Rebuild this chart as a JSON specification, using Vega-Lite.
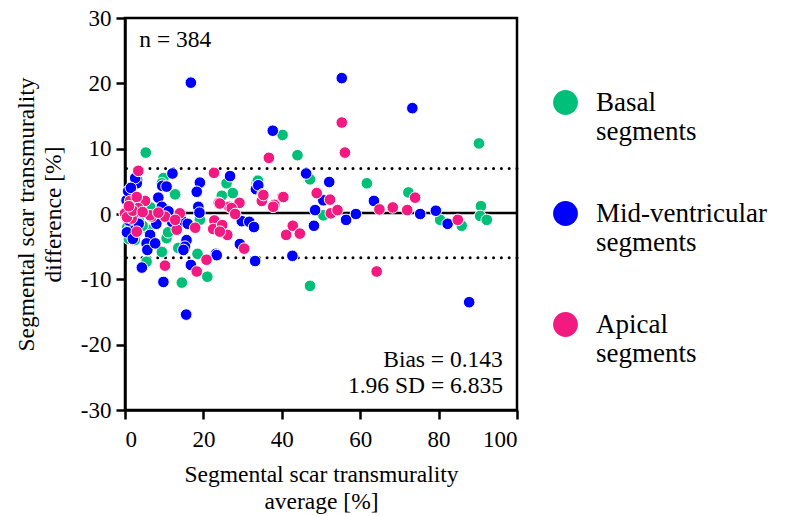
{
  "$schema": "https://vega.github.io/schema/vega-lite/v6.json",
  "width": 392,
  "height": 392,
  "autosize": {"type": "none"},
  "padding": {"left": 125, "top": 18, "right": 274, "bottom": 106},
  "datasets": {
    "pts": [
      {"avg": 5.3, "diff": 9.4, "seg": "Basal"}, {"avg": 40.2, "diff": 12.1, "seg": "Basal"}, {"avg": 44.0, "diff": 9.0, "seg": "Basal"}, {"avg": 47.2, "diff": 5.3, "seg": "Basal"}, {"avg": 9.8, "diff": 5.5, "seg": "Basal"}, {"avg": 12.8, "diff": 3.0, "seg": "Basal"}, {"avg": 25.9, "diff": 4.7, "seg": "Basal"}, {"avg": 27.5, "diff": 3.2, "seg": "Basal"}, {"avg": 24.7, "diff": 2.8, "seg": "Basal"}, {"avg": 33.6, "diff": 4.8, "seg": "Basal"}, {"avg": 33.9, "diff": 5.1, "seg": "Basal"}, {"avg": 5.5, "diff": -7.3, "seg": "Basal"}, {"avg": 10.6, "diff": -3.7, "seg": "Basal"}, {"avg": 9.4, "diff": -5.8, "seg": "Basal"}, {"avg": 14.5, "diff": -10.5, "seg": "Basal"}, {"avg": 19.1, "diff": -0.9, "seg": "Basal"}, {"avg": 14.5, "diff": -5.0, "seg": "Basal"}, {"avg": 18.5, "diff": -6.1, "seg": "Basal"}, {"avg": 21.0, "diff": -9.6, "seg": "Basal"}, {"avg": 47.2, "diff": -11.0, "seg": "Basal"}, {"avg": 90.3, "diff": 10.8, "seg": "Basal"}, {"avg": 61.7, "diff": 4.7, "seg": "Basal"}, {"avg": 72.3, "diff": 3.3, "seg": "Basal"}, {"avg": 90.8, "diff": 1.2, "seg": "Basal"}, {"avg": 50.6, "diff": -0.2, "seg": "Basal"}, {"avg": 80.4, "diff": -0.9, "seg": "Basal"}, {"avg": 85.9, "diff": -1.8, "seg": "Basal"}, {"avg": 90.6, "diff": -0.3, "seg": "Basal"}, {"avg": 92.3, "diff": -0.9, "seg": "Basal"}, {"avg": 9.4, "diff": 4.7, "seg": "Basal"}, {"avg": 5.9, "diff": -2.4, "seg": "Basal"}, {"avg": 11.0, "diff": -2.8, "seg": "Basal"}, {"avg": 13.6, "diff": -5.2, "seg": "Basal"}, {"avg": 1.2, "diff": -3.2, "seg": "Basal"}, {"avg": 2.5, "diff": -4.0, "seg": "Basal"}, {"avg": 0.6, "diff": -2.0, "seg": "Basal"}, {"avg": 4.5, "diff": -1.8, "seg": "Basal"}, {"avg": 6.5, "diff": 1.0, "seg": "Basal"}, {"avg": 7.8, "diff": -0.8, "seg": "Basal"}, {"avg": 11.5, "diff": -1.0, "seg": "Basal"}, {"avg": 13.0, "diff": -0.3, "seg": "Basal"}, {"avg": 2.0, "diff": 2.5, "seg": "Basal"}, {"avg": 1.0, "diff": -3.8, "seg": "Basal"}, {"avg": 0.0, "diff": 0.0, "seg": "Basal"}, {"avg": 3.5, "diff": -1.0, "seg": "Basal"},
      {"avg": 16.8, "diff": 20.1, "seg": "Mid-ventricular"}, {"avg": 37.7, "diff": 12.75, "seg": "Mid-ventricular"}, {"avg": 12.1, "diff": 6.2, "seg": "Mid-ventricular"}, {"avg": 26.8, "diff": 5.8, "seg": "Mid-ventricular"}, {"avg": 46.2, "diff": 6.2, "seg": "Mid-ventricular"}, {"avg": 3.1, "diff": 5.2, "seg": "Mid-ventricular"}, {"avg": 2.3, "diff": 4.4, "seg": "Mid-ventricular"}, {"avg": 9.5, "diff": 4.3, "seg": "Mid-ventricular"}, {"avg": 19.1, "diff": 4.8, "seg": "Mid-ventricular"}, {"avg": 18.3, "diff": 3.4, "seg": "Mid-ventricular"}, {"avg": 8.5, "diff": 2.5, "seg": "Mid-ventricular"}, {"avg": 33.4, "diff": 3.8, "seg": "Mid-ventricular"}, {"avg": 34.0, "diff": 4.4, "seg": "Mid-ventricular"}, {"avg": 18.7, "diff": 1.1, "seg": "Mid-ventricular"}, {"avg": 9.8, "diff": 0.9, "seg": "Mid-ventricular"}, {"avg": 6.4, "diff": -3.2, "seg": "Mid-ventricular"}, {"avg": 5.5, "diff": -4.5, "seg": "Mid-ventricular"}, {"avg": 5.7, "diff": -5.5, "seg": "Mid-ventricular"}, {"avg": 7.7, "diff": -4.5, "seg": "Mid-ventricular"}, {"avg": 4.3, "diff": -8.2, "seg": "Mid-ventricular"}, {"avg": 9.8, "diff": -10.4, "seg": "Mid-ventricular"}, {"avg": 15.6, "diff": -15.4, "seg": "Mid-ventricular"}, {"avg": 19.0, "diff": 0.2, "seg": "Mid-ventricular"}, {"avg": 15.7, "diff": -4.0, "seg": "Mid-ventricular"}, {"avg": 15.3, "diff": -5.0, "seg": "Mid-ventricular"}, {"avg": 14.9, "diff": -5.5, "seg": "Mid-ventricular"}, {"avg": 16.8, "diff": -7.8, "seg": "Mid-ventricular"}, {"avg": 23.2, "diff": -6.1, "seg": "Mid-ventricular"}, {"avg": 29.8, "diff": -1.1, "seg": "Mid-ventricular"}, {"avg": 31.7, "diff": -1.2, "seg": "Mid-ventricular"}, {"avg": 32.9, "diff": -2.0, "seg": "Mid-ventricular"}, {"avg": 29.3, "diff": -4.6, "seg": "Mid-ventricular"}, {"avg": 33.2, "diff": -7.2, "seg": "Mid-ventricular"}, {"avg": 42.7, "diff": -6.4, "seg": "Mid-ventricular"}, {"avg": 48.5, "diff": 0.6, "seg": "Mid-ventricular"}, {"avg": 48.2, "diff": -1.8, "seg": "Mid-ventricular"}, {"avg": 55.3, "diff": 20.8, "seg": "Mid-ventricular"}, {"avg": 73.3, "diff": 16.2, "seg": "Mid-ventricular"}, {"avg": 52.1, "diff": 4.9, "seg": "Mid-ventricular"}, {"avg": 50.6, "diff": 2.1, "seg": "Mid-ventricular"}, {"avg": 56.4, "diff": -0.9, "seg": "Mid-ventricular"}, {"avg": 58.9, "diff": 0.0, "seg": "Mid-ventricular"}, {"avg": 63.5, "diff": 2.0, "seg": "Mid-ventricular"}, {"avg": 75.3, "diff": 0.0, "seg": "Mid-ventricular"}, {"avg": 79.3, "diff": 0.5, "seg": "Mid-ventricular"}, {"avg": 82.3, "diff": -1.5, "seg": "Mid-ventricular"}, {"avg": 87.8, "diff": -13.5, "seg": "Mid-ventricular"}, {"avg": 3.0, "diff": 4.7, "seg": "Mid-ventricular"}, {"avg": 2.6, "diff": 5.5, "seg": "Mid-ventricular"}, {"avg": 10.6, "diff": 4.2, "seg": "Mid-ventricular"}, {"avg": 9.4, "diff": 1.1, "seg": "Mid-ventricular"}, {"avg": 11.1, "diff": 0.4, "seg": "Mid-ventricular"}, {"avg": 0.4, "diff": 2.1, "seg": "Mid-ventricular"}, {"avg": 0.9, "diff": -0.4, "seg": "Mid-ventricular"}, {"avg": 1.3, "diff": -2.2, "seg": "Mid-ventricular"}, {"avg": 23.4, "diff": -6.3, "seg": "Mid-ventricular"}, {"avg": 0.8, "diff": 3.5, "seg": "Mid-ventricular"}, {"avg": 1.5, "diff": 4.0, "seg": "Mid-ventricular"}, {"avg": 0.5, "diff": -2.8, "seg": "Mid-ventricular"}, {"avg": 2.0, "diff": -3.8, "seg": "Mid-ventricular"}, {"avg": 1.0, "diff": -1.0, "seg": "Mid-ventricular"}, {"avg": 3.5, "diff": -1.5, "seg": "Mid-ventricular"}, {"avg": 4.0, "diff": 1.0, "seg": "Mid-ventricular"}, {"avg": 2.2, "diff": 0.0, "seg": "Mid-ventricular"}, {"avg": 7.5, "diff": -0.5, "seg": "Mid-ventricular"}, {"avg": 8.0, "diff": -1.5, "seg": "Mid-ventricular"}, {"avg": 12.0, "diff": -1.2, "seg": "Mid-ventricular"}, {"avg": 14.5, "diff": -1.0, "seg": "Mid-ventricular"}, {"avg": 16.0, "diff": -1.5, "seg": "Mid-ventricular"}, {"avg": 0.0, "diff": 0.0, "seg": "Mid-ventricular"},
      {"avg": 3.4, "diff": 6.6, "seg": "Apical"}, {"avg": 22.7, "diff": 6.3, "seg": "Apical"}, {"avg": 36.7, "diff": 8.6, "seg": "Apical"}, {"avg": 35.1, "diff": 3.0, "seg": "Apical"}, {"avg": 40.1, "diff": 2.6, "seg": "Apical"}, {"avg": 34.9, "diff": 2.0, "seg": "Apical"}, {"avg": 38.1, "diff": 1.4, "seg": "Apical"}, {"avg": 23.9, "diff": 1.7, "seg": "Apical"}, {"avg": 26.6, "diff": 1.1, "seg": "Apical"}, {"avg": 29.2, "diff": 1.7, "seg": "Apical"}, {"avg": 48.9, "diff": 3.2, "seg": "Apical"}, {"avg": 1.3, "diff": 2.0, "seg": "Apical"}, {"avg": 5.1, "diff": 2.0, "seg": "Apical"}, {"avg": 3.0, "diff": 2.6, "seg": "Apical"}, {"avg": 0.0, "diff": 0.1, "seg": "Apical"}, {"avg": 1.7, "diff": -0.7, "seg": "Apical"}, {"avg": 3.0, "diff": -2.7, "seg": "Apical"}, {"avg": 6.8, "diff": -0.4, "seg": "Apical"}, {"avg": 10.2, "diff": -0.4, "seg": "Apical"}, {"avg": 14.0, "diff": 0.1, "seg": "Apical"}, {"avg": 13.2, "diff": -2.4, "seg": "Apical"}, {"avg": 17.9, "diff": -2.1, "seg": "Apical"}, {"avg": 10.2, "diff": -7.9, "seg": "Apical"}, {"avg": 20.8, "diff": -7.0, "seg": "Apical"}, {"avg": 18.3, "diff": -8.8, "seg": "Apical"}, {"avg": 22.8, "diff": -1.0, "seg": "Apical"}, {"avg": 22.5, "diff": -2.3, "seg": "Apical"}, {"avg": 24.8, "diff": -1.7, "seg": "Apical"}, {"avg": 26.1, "diff": -3.2, "seg": "Apical"}, {"avg": 27.2, "diff": 0.9, "seg": "Apical"}, {"avg": 28.1, "diff": 0.0, "seg": "Apical"}, {"avg": 30.4, "diff": -5.3, "seg": "Apical"}, {"avg": 41.1, "diff": -3.2, "seg": "Apical"}, {"avg": 42.8, "diff": -1.8, "seg": "Apical"}, {"avg": 44.6, "diff": -3.0, "seg": "Apical"}, {"avg": 55.3, "diff": 14.0, "seg": "Apical"}, {"avg": 56.1, "diff": 9.4, "seg": "Apical"}, {"avg": 74.0, "diff": 2.5, "seg": "Apical"}, {"avg": 52.3, "diff": 2.2, "seg": "Apical"}, {"avg": 52.5, "diff": 0.1, "seg": "Apical"}, {"avg": 54.2, "diff": 0.6, "seg": "Apical"}, {"avg": 64.9, "diff": 0.7, "seg": "Apical"}, {"avg": 68.3, "diff": 1.0, "seg": "Apical"}, {"avg": 72.0, "diff": 0.6, "seg": "Apical"}, {"avg": 84.9, "diff": -0.9, "seg": "Apical"}, {"avg": 64.2, "diff": -8.8, "seg": "Apical"}, {"avg": 3.4, "diff": 0.9, "seg": "Apical"}, {"avg": 6.4, "diff": -0.2, "seg": "Apical"}, {"avg": 12.8, "diff": -0.9, "seg": "Apical"}, {"avg": 24.2, "diff": -2.7, "seg": "Apical"}, {"avg": 35.3, "diff": 2.9, "seg": "Apical"}, {"avg": 37.8, "diff": 1.1, "seg": "Apical"}, {"avg": 40.4, "diff": 2.6, "seg": "Apical"}, {"avg": 24.2, "diff": 1.6, "seg": "Apical"}, {"avg": 0.5, "diff": -0.5, "seg": "Apical"}, {"avg": 2.0, "diff": 0.5, "seg": "Apical"}, {"avg": 1.0, "diff": 1.2, "seg": "Apical"}, {"avg": 4.5, "diff": 0.3, "seg": "Apical"}, {"avg": 8.5, "diff": 0.2, "seg": "Apical"}
    ]
  },
  "config": {
    "font": "Liberation Serif",
    "view": {"stroke": "black", "strokeWidth": 2.5},
    "axis": {
      "grid": false,
      "domainColor": "black",
      "domainWidth": 2.5,
      "tickColor": "black",
      "tickWidth": 2.5,
      "tickSize": 9,
      "labelFont": "Liberation Serif",
      "labelFontSize": 23,
      "labelColor": "black",
      "labelExpr": "replace(datum.label, '\\u2212', '-')",
      "titleFont": "Liberation Serif",
      "titleFontSize": 23.5,
      "titleFontWeight": "normal",
      "titleColor": "black"
    },
    "axisX": {"labelPadding": 9, "titlePadding": 11, "titleLineHeight": 27},
    "axisY": {"labelPadding": 5, "titlePadding": 15, "titleLineHeight": 27},
    "legend": {
      "orient": "none",
      "legendX": 427,
      "legendY": 71,
      "padding": 0,
      "labelFont": "Liberation Serif",
      "labelFontSize": 27,
      "labelColor": "black",
      "labelLimit": 400,
      "labelOffset": 17,
      "symbolSize": 615,
      "symbolType": "circle",
      "symbolStrokeWidth": 0,
      "symbolOpacity": 1,
      "rowPadding": 54,
      "labelBaseline": "middle"
    }
  },
  "layer": [
    {
      "data": {"values": [{"diff": 6.978}, {"diff": -6.692}]},
      "mark": {"type": "rule", "color": "black", "strokeWidth": 3, "strokeCap": "round", "strokeDash": [0.01, 7.8]},
      "encoding": {
        "y": {"field": "diff", "type": "quantitative", "scale": {"domain": [-30, 30], "nice": false}, "axis": {"title": ["Segmental scar transmurality", "difference [%]"], "values": [-30, -20, -10, 0, 10, 20, 30]}}
      }
    },
    {
      "data": {"values": [{"diff": 0.143}]},
      "mark": {"type": "rule", "color": "black", "strokeWidth": 2.5},
      "encoding": {
        "y": {"field": "diff", "type": "quantitative", "scale": {"domain": [-30, 30], "nice": false}, "axis": {"title": ["Segmental scar transmurality", "difference [%]"], "values": [-30, -20, -10, 0, 10, 20, 30]}}
      }
    },
    {
      "data": {"name": "pts"},
      "mark": {"type": "circle", "size": 135, "opacity": 1, "stroke": "white", "strokeWidth": 1},
      "encoding": {
        "x": {"field": "avg", "type": "quantitative", "scale": {"domain": [0, 100], "nice": false}, "axis": {"title": ["Segmental scar transmurality", "average [%]"], "values": [0, 20, 40, 60, 80, 100]}},
        "y": {"field": "diff", "type": "quantitative", "scale": {"domain": [-30, 30], "nice": false}, "axis": {"title": ["Segmental scar transmurality", "difference [%]"], "values": [-30, -20, -10, 0, 10, 20, 30]}},
        "color": {
          "field": "seg", "type": "nominal",
          "scale": {"domain": ["Basal", "Mid-ventricular", "Apical"], "range": ["#00BF78", "#0000FF", "#F21A80"]},
          "legend": {"title": null, "labelExpr": "[datum.label, 'segments']"}
        }
      }
    },
    {
      "data": {"values": [
        {"avg": 3.65, "diff": 25.6, "label": "n = 384"}
      ]},
      "mark": {"type": "text", "align": "left", "baseline": "alphabetic", "fontSize": 23.5, "color": "black", "font": "Liberation Serif"},
      "encoding": {
        "x": {"field": "avg", "type": "quantitative", "scale": {"domain": [0, 100], "nice": false}, "axis": {"title": ["Segmental scar transmurality", "average [%]"], "values": [0, 20, 40, 60, 80, 100]}},
        "y": {"field": "diff", "type": "quantitative", "scale": {"domain": [-30, 30], "nice": false}, "axis": {"title": ["Segmental scar transmurality", "difference [%]"], "values": [-30, -20, -10, 0, 10, 20, 30]}},
        "text": {"field": "label"}
      }
    },
    {
      "data": {"values": [
        {"avg": 96.4, "diff": -23.4, "label": "Bias = 0.143"},
        {"avg": 96.4, "diff": -27.4, "label": "1.96 SD =  6.835"}
      ]},
      "mark": {"type": "text", "align": "right", "baseline": "alphabetic", "fontSize": 23.5, "color": "black", "font": "Liberation Serif"},
      "encoding": {
        "x": {"field": "avg", "type": "quantitative", "scale": {"domain": [0, 100], "nice": false}, "axis": {"title": ["Segmental scar transmurality", "average [%]"], "values": [0, 20, 40, 60, 80, 100]}},
        "y": {"field": "diff", "type": "quantitative", "scale": {"domain": [-30, 30], "nice": false}, "axis": {"title": ["Segmental scar transmurality", "difference [%]"], "values": [-30, -20, -10, 0, 10, 20, 30]}},
        "text": {"field": "label"}
      }
    }
  ]
}
